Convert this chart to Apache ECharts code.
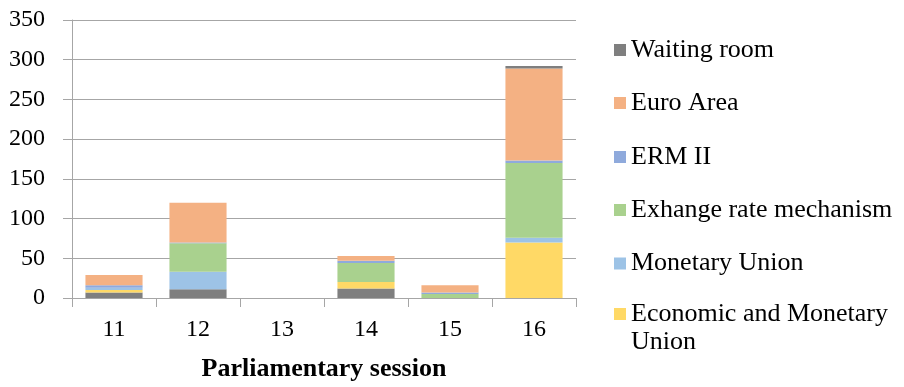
<!DOCTYPE html>
<html>
<head>
<meta charset="utf-8">
<script src="https://cdn.jsdelivr.net/npm/echarts@6/dist/echarts.min.js"></script>
<style>
  html, body { margin: 0; padding: 0; background: #fff; }
  #chart { width: 904px; height: 387px; }
</style>
</head>
<body>
<div id="chart"></div>
<script>
// Parliamentary sessions on the x axis
const sessions = ['11', '12', '13', '14', '15', '16'];

// Counts per session, one array per category
const waitingRoomLower = [7, 11, 0, 12, 0, 0];
const economicMonetaryUnion = [3, 0, 0, 8, 0, 70];
const monetaryUnion = [3, 22, 0, 0, 0, 6];
const exchangeRateMechanism = [0, 36, 0, 24, 5, 94];
const ermII = [3, 1, 0, 3, 2, 3];
const euroArea = [13, 50, 0, 6, 9, 116];
const waitingRoomUpper = [0, 0, 0, 0, 0, 3];

// Value axis ticks
const yTicks = [0, 50, 100, 150, 200, 250, 300, 350];

const FONT = "'Liberation Serif', 'Times New Roman', serif";
const COLORS = {
  wait: '#7f7f7f',
  euro: '#f4b183',
  ermII: '#8faadc',
  erm: '#a9d18e',
  mu: '#9dc3e6',
  emu: '#ffd966'
};

// Legend entries, top to bottom, with the vertical centre of each marker
const legendEntries = [
  { name: 'Waiting room', y: 50 },
  { name: 'Euro Area', y: 103 },
  { name: 'ERM II', y: 157 },
  { name: 'Exhange rate mechanism', y: 210 },
  { name: 'Monetary Union', y: 263.5 },
  { name: 'Economic and Monetary Union', y: 314, wrap: '\nEconomic and Monetary\nUnion' }
];

const LINE_H = 28;
const legends = legendEntries.map(function (e) {
  const lg = {
    orient: 'vertical',
    left: 614,
    top: e.wrap ? e.y - LINE_H * 1.5 : e.y - LINE_H / 2,
    padding: 0,
    itemWidth: 12,
    itemHeight: 12,
    icon: 'rect',
    selectedMode: false,
    data: [e.name],
    textStyle: {
      fontFamily: FONT,
      fontSize: 26,
      color: '#000',
      lineHeight: LINE_H
    }
  };
  if (e.wrap) {
    lg.formatter = function () { return e.wrap; };
  }
  return lg;
});

function bar(name, data, color) {
  return {
    name: name,
    type: 'bar',
    stack: 'total',
    data: data,
    barCategoryGap: '32%',
    itemStyle: { color: color },
    emphasis: { disabled: true }
  };
}

const chart = echarts.init(document.getElementById('chart'), null, { renderer: 'canvas' });
chart.setOption({
  animation: false,
  backgroundColor: '#fff',
  grid: { left: 72, top: 20, width: 504, height: 281, containLabel: false },
  legend: legends,
  xAxis: {
    type: 'category',
    data: sessions,
    name: 'Parliamentary session',
    nameLocation: 'middle',
    nameGap: 58,
    nameTextStyle: { fontFamily: FONT, fontSize: 26, fontWeight: 'bold', color: '#000' },
    axisLine: { lineStyle: { color: '#a6a6a6', width: 1 } },
    axisTick: { show: true, length: 9, alignWithLabel: false, lineStyle: { color: '#a6a6a6' } },
    axisLabel: { fontFamily: FONT, fontSize: 24, color: '#000', margin: 20 }
  },
  yAxis: {
    type: 'value',
    min: yTicks[0],
    max: yTicks[yTicks.length - 1],
    interval: yTicks[1] - yTicks[0],
    axisLine: { show: true, lineStyle: { color: '#a6a6a6', width: 1 } },
    axisTick: { show: true, length: 9, lineStyle: { color: '#a6a6a6' } },
    axisLabel: { fontFamily: FONT, fontSize: 24, color: '#000', margin: 27 },
    splitLine: { show: true, lineStyle: { color: '#a6a6a6', width: 1 } }
  },
  series: [
    bar('Waiting room', waitingRoomLower, COLORS.wait),
    bar('Economic and Monetary Union', economicMonetaryUnion, COLORS.emu),
    bar('Monetary Union', monetaryUnion, COLORS.mu),
    bar('Exhange rate mechanism', exchangeRateMechanism, COLORS.erm),
    bar('ERM II', ermII, COLORS.ermII),
    bar('Euro Area', euroArea, COLORS.euro),
    bar('Waiting room', waitingRoomUpper, COLORS.wait)
  ]
});
</script>
</body>
</html>
